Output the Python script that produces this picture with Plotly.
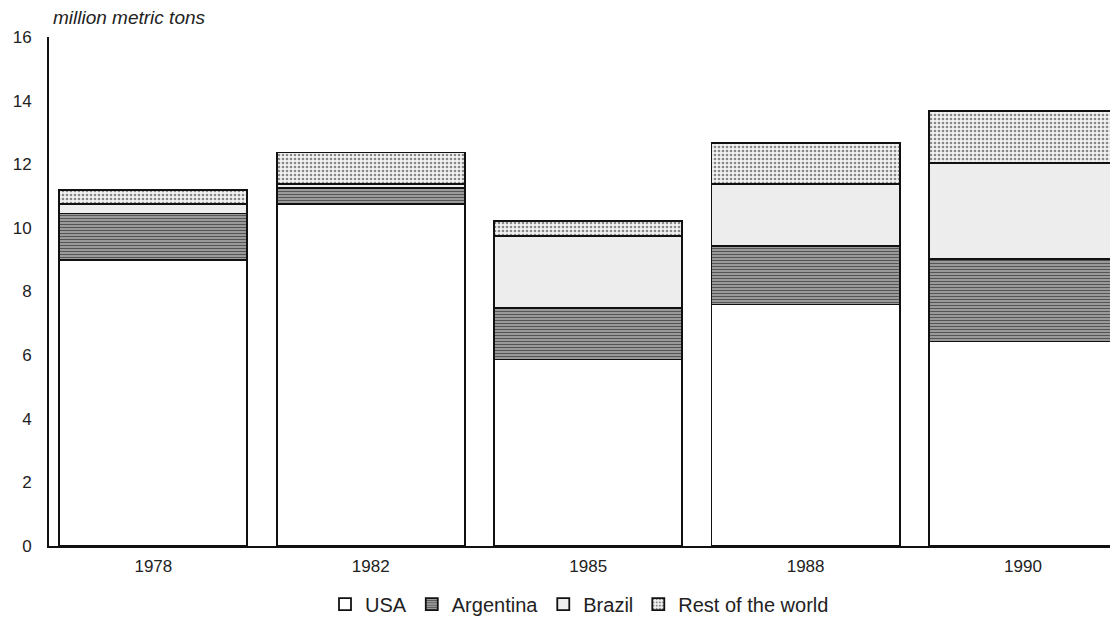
import plotly.graph_objects as go

years = ["1978", "1982", "1985", "1988", "1990"]
usa = [9.0, 10.75, 5.86, 7.59, 6.43]
argentina = [1.45, 0.5, 1.63, 1.85, 2.6]
brazil = [0.3, 0.12, 2.26, 1.94, 3.01]
rest = [0.45, 1.0, 0.47, 1.28, 1.63]
y_ticks = [0, 2, 4, 6, 8, 10, 12, 14, 16]

FONT = "Arial, Liberation Sans, sans-serif"
line = dict(color="#111111", width=1.8)

fig = go.Figure()
fig.add_trace(go.Bar(name="USA", x=years, y=usa,
                     marker=dict(color="white", line=line)))
fig.add_trace(go.Bar(name="Argentina", x=years, y=argentina,
                     marker=dict(color="#9a9a9a", line=line,
                                 pattern=dict(shape="-", fgcolor="#555555", bgcolor="#a8a8a8",
                                              size=3, solidity=0.45))))
fig.add_trace(go.Bar(name="Brazil", x=years, y=brazil,
                     marker=dict(color="#ededed", line=line)))
fig.add_trace(go.Bar(name="Rest of the world", x=years, y=rest,
                     marker=dict(color="#eeeeee", line=line,
                                 pattern=dict(shape=".", fgcolor="#888888", bgcolor="#f2f2f2",
                                              size=4, solidity=0.35))))

fig.update_layout(
    template="none",
    barmode="stack",
    bargap=0.135,
    width=1102, height=608,
    margin=dict(l=41, r=0, t=29, b=70, autoexpand=False),
    paper_bgcolor="white", plot_bgcolor="white",
    font=dict(family=FONT, size=17, color="#222222"),
    showlegend=True,
    legend=dict(orientation="h", x=0.5, xanchor="center", y=-0.114, yanchor="middle",
                font=dict(size=20, color="#222222"), traceorder="normal",
                itemwidth=30, tracegroupgap=0, bgcolor="rgba(0,0,0,0)"),
    xaxis=dict(type="category", range=[-0.48, 4.40], showline=True, linecolor="#111111",
               linewidth=1.8, showgrid=False, ticks="", tickfont=dict(size=17),
               automargin=False, ticklabelstandoff=4),
    yaxis=dict(range=[0, 16], tickvals=y_ticks, showline=True, linecolor="#111111",
               linewidth=1.8, showgrid=False, zeroline=False, ticks="",
               tickfont=dict(size=17), automargin=False, ticklabelstandoff=12),
    annotations=[dict(text="<i>million metric tons</i>", xref="paper", yref="paper",
                      x=0, y=1, xshift=2, yshift=20, xanchor="left", yanchor="middle",
                      showarrow=False, font=dict(size=19, color="#222222"))],
)

fig.write_html("out.html")
